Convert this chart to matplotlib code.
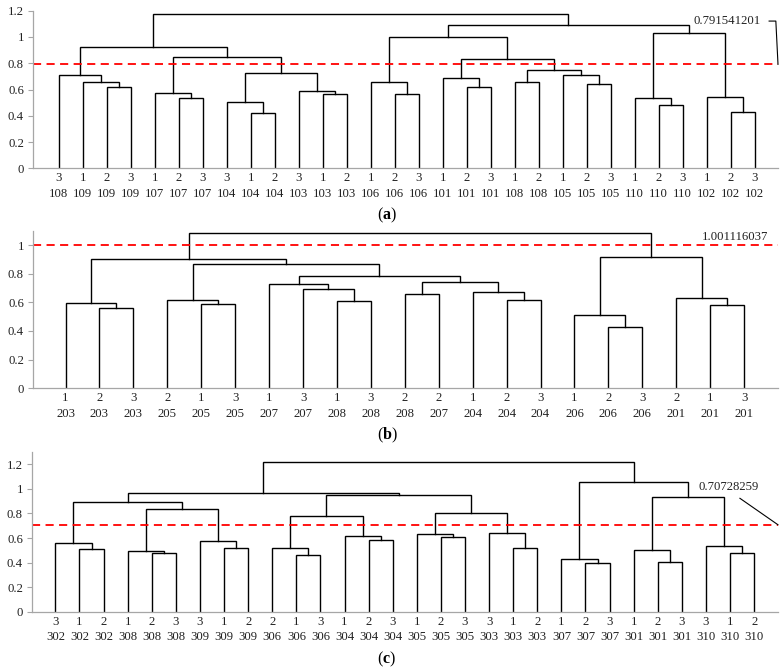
import numpy as np
import matplotlib
matplotlib.use('Agg')
import matplotlib.pyplot as plt
from matplotlib.ticker import FuncFormatter

plt.rcParams['font.family'] = ['Liberation Serif', 'DejaVu Serif']
plt.rcParams['mathtext.fontset'] = 'custom'
plt.rcParams['mathtext.rm'] = 'Liberation Serif'
plt.rcParams['mathtext.bf'] = 'Liberation Serif:bold'

# ---- panel (a) ----
reps_a = [3, 1, 2, 3, 1, 2, 3, 3, 1, 2, 3, 1, 2, 1, 2, 3, 1, 2, 3, 1, 2, 1, 2, 3, 1, 2, 3, 1, 2, 3]
ids_a = [108, 109, 109, 109, 107, 107, 107, 104, 104, 104, 103, 103, 103, 106, 106, 106,
         101, 101, 101, 108, 108, 105, 105, 105, 110, 110, 110, 102, 102, 102]
# tree: (left, right, height), ints are leaf positions
tree_a = (((0, (1, (2, 3, 0.619), 0.659), 0.708),
           ((4, (5, 6, 0.533), 0.573),
            ((7, (8, 9, 0.418), 0.502), (10, (11, 12, 0.563), 0.586), 0.723), 0.849), 0.921),
          (((13, (14, 15, 0.563), 0.659),
            ((16, (17, 18, 0.619), 0.685),
             ((19, 20, 0.657), (21, (22, 23, 0.639), 0.712), 0.746), 0.834), 1.002),
           ((24, (25, 26, 0.479), 0.533), (27, (28, 29, 0.428), 0.540), 1.030), 1.093), 1.172)
cut_a = 0.791541201

# ---- panel (b) ----
reps_b = [1, 2, 3, 2, 1, 3, 1, 3, 1, 3, 2, 2, 1, 2, 3, 1, 2, 3, 2, 1, 3]
ids_b = [203, 203, 203, 205, 205, 205, 207, 207, 208, 208, 208, 207, 204, 204, 204,
         206, 206, 206, 201, 201, 201]
tree_b = (((0, (1, 2, 0.560), 0.595),
           ((3, (4, 5, 0.591), 0.616),
            ((6, (7, (8, 9, 0.609), 0.693), 0.730),
             ((10, 11, 0.658), (12, (13, 14, 0.616), 0.674), 0.740), 0.781), 0.865), 0.905),
          ((15, (16, 17, 0.428), 0.512), (18, (19, 20, 0.579), 0.630), 0.914), 1.081)
cut_b = 1.001116037

# ---- panel (c) ----
reps_c = [3, 1, 2, 1, 2, 3, 3, 1, 2, 2, 1, 3, 1, 2, 3, 1, 2, 3, 3, 1, 2, 1, 2, 3, 1, 2, 3, 3, 1, 2]
ids_c = [302, 302, 302, 308, 308, 308, 309, 309, 309, 306, 306, 306, 304, 304, 304,
         305, 305, 305, 303, 303, 303, 307, 307, 307, 301, 301, 301, 310, 310, 310]
tree_c = ((((0, (1, 2, 0.508), 0.559),
            ((3, (4, 5, 0.481), 0.497), (6, (7, 8, 0.516), 0.576), 0.835), 0.895),
           (((9, (10, 11, 0.462), 0.522), (12, (13, 14, 0.584), 0.614), 0.778),
            ((15, (16, 17, 0.611), 0.635), (18, (19, 20, 0.522), 0.641), 0.805), 0.951), 0.968),
          ((21, (22, 23, 0.397), 0.427),
           ((24, (25, 26, 0.403), 0.500), (27, (28, 29, 0.481), 0.532), 0.932), 1.051), 1.219)
cut_c = 0.70728259


def draw(ax, node):
    # returns x position and height of the node, drawing the U links on the way
    if isinstance(node, int):
        return node, 0.0
    left, right, h = node
    xl, hl = draw(ax, left)
    xr, hr = draw(ax, right)
    ax.plot([xl, xl, xr, xr], [hl, h, h, hr], color='black', lw=1.0, solid_joinstyle='miter')
    return (xl + xr) / 2, h


W, H = 784, 671
fs = 9.2
fig = plt.figure(figsize=(W / 100, H / 100), dpi=100)

# pixel boxes: left, right, y of zero, y of top, xlim, ylim
panels = [
    (reps_a, ids_a, tree_a, cut_a, (33, 778, 168.3, 10.7), (-1.07, 29.97), (0, 1.2), np.arange(0, 1.21, 0.2)),
    (reps_b, ids_b, tree_b, cut_b, (33, 778, 388.3, 230.7), (-0.96, 21.0), (0, 1.1), np.arange(0, 1.01, 0.2)),
    (reps_c, ids_c, tree_c, cut_c, (32, 778, 612.0, 451.7), (-0.97, 29.99), (0, 1.3), np.arange(0, 1.21, 0.2)),
]

axes = []
for reps, ids, tree, cut, box, xl, yl, yt in panels:
    l, r, y0, y1 = box
    ax = fig.add_axes([l / W, 1 - y0 / H, (r - l) / W, (y0 - y1) / H])
    draw(ax, tree)
    ax.axhline(cut, color='#ff0000', lw=1.3, linestyle=(0, (4.5, 3)))
    ax.set_xlim(*xl)
    ax.set_ylim(*yl)
    ax.set_yticks(yt)
    ax.yaxis.set_major_formatter(FuncFormatter(lambda v, p: '%g' % round(v, 1)))
    ax.set_xticks(range(len(reps)))
    ax.set_xticklabels(['%d\n%d' % (a, b) for a, b in zip(reps, ids)], linespacing=1.35)
    ax.tick_params(axis='x', length=0, pad=3, labelsize=fs, colors='#222222')
    ax.tick_params(axis='y', length=3.5, width=0.8, color='#a6a6a6', pad=3, labelsize=fs, labelcolor='#222222')
    for s in ['top', 'right']:
        ax.spines[s].set_visible(False)
    for s in ['left', 'bottom']:
        ax.spines[s].set_color('#a6a6a6')
        ax.spines[s].set_linewidth(0.9)
    axes.append(ax)

ax_a, ax_b, ax_c = axes

# cut value labels with leader lines
ax_a.text(29.25, 1.121, '0.791541201', ha='right', va='center', fontsize=fs, color='#222222', clip_on=False)
ax_a.plot([29.6, 29.88, 29.97], [1.121, 1.121, cut_a], color='black', lw=0.8, clip_on=False)

ax_b.text(20.72, 1.058, '1.001116037', ha='right', va='center', fontsize=fs, color='#222222', clip_on=False)

ax_c.text(29.2, 1.016, '0.70728259', ha='right', va='center', fontsize=fs, color='#222222', clip_on=False)
ax_c.plot([28.41, 29.99], [0.922, cut_c], color='black', lw=0.8, clip_on=False)

# panel captions
for lab, yp in [('a', 215.7), ('b', 435.7), ('c', 659.3)]:
    fig.text(387 / W, 1 - yp / H, r'$\mathrm{(}\mathbf{%s}\mathrm{)}$' % lab, ha='center', va='center', fontsize=11.5)

fig.savefig('out.png', dpi=100)
